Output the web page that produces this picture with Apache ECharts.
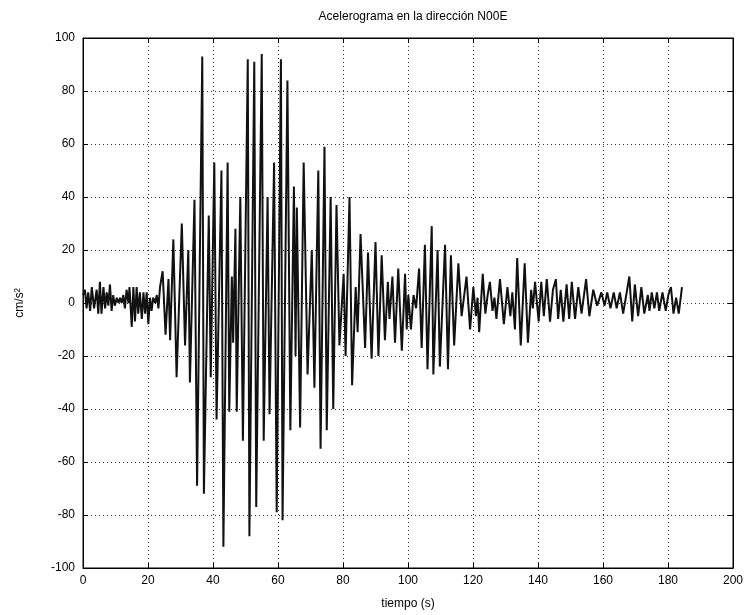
<!DOCTYPE html>
<html>
<head>
<meta charset="utf-8">
<script src="https://cdn.jsdelivr.net/npm/echarts@6/dist/echarts.min.js"></script>
<style>
html,body{margin:0;padding:0;background:#fff;}
#chart{width:750px;height:615px;}
</style>
</head>
<body>
<div id="chart"></div>
<script>
const chartTitle = "Acelerograma en la dirección N00E";
const xAxisName = "tiempo (s)";
const yAxisName = "cm/s²";
const xTicks = [0, 20, 40, 60, 80, 100, 120, 140, 160, 180, 200];
const yTicks = [-100, -80, -60, -40, -20, 0, 20, 40, 60, 80, 100];

// time (s) of each read-off turning point
const times = [
  0.0,0.6,1.1,1.6,2.2,2.7,3.4,4.2,4.7,5.2,5.7,6.3,6.8,7.3,7.8,8.3,8.8,9.3,9.8,10.4,
  10.9,11.4,11.9,12.4,12.9,13.4,14.0,14.3,15.0,15.5,16.0,16.5,17.0,17.5,18.1,18.6,19.1,19.6,20.1,20.6,
  21.1,21.6,22.2,22.7,23.2,23.7,24.5,25.4,26.3,26.8,27.8,28.8,30.4,31.4,32.4,32.9,34.3,35.1,36.7,37.2,
  38.7,39.3,40.4,41.1,42.6,43.2,44.5,45.0,45.8,46.2,46.9,47.3,48.4,49.2,50.7,51.2,52.7,53.3,55.0,55.6,56.8,57.4,
  58.8,59.6,60.9,61.4,62.9,63.8,64.9,65.4,65.8,66.8,67.9,69.1,70.4,71.2,72.4,73.1,74.3,75.0,76.2,77.0,
  78.0,78.9,80.2,80.8,82.0,82.8,83.9,84.5,85.4,86.8,87.7,88.8,90.0,90.9,91.9,92.9,93.8,94.3,95.2,96.0,
  97.0,98.1,99.1,99.6,100.1,100.9,101.7,102.5,103.4,104.2,105.2,106.0,107.3,107.8,109.1,109.8,111.4,112.3,113.2,114.2,
  115.5,116.5,118.0,119.1,120.1,120.9,121.4,121.9,123.0,123.8,124.5,125.2,126.0,126.6,127.2,128.3,129.5,130.6,131.5,132.1,
  132.9,133.6,134.7,135.9,136.9,137.9,138.4,139.1,140.2,141.0,141.8,142.7,143.7,144.6,145.5,146.2,147.0,147.8,148.8,149.6,
  150.4,151.4,152.4,153.4,154.8,155.8,157.0,158.2,159.5,160.5,161.3,162.3,163.3,164.2,165.2,166.2,168.1,169.0,169.8,170.8,
  171.8,172.7,173.8,174.3,175.0,175.8,176.6,177.3,178.3,179.3,180.1,180.9,181.7,182.5,183.3,184.3
];
// acceleration (cm/s^2) at each of those times
const accel = [
  3,5,-2,4,-3,6,-2,5,-4,8,-4,6,-2,4,-1,7,-3,3,-1,2,
  0,2,0,3,-2,5,0,6,-9,6,-7,6,-4,4,-6,4,-4,4,-8,2,
  -3,2,0,3,-2,6,12,-12,9,-14,24,-28,30,-16,20,-30,39,-69,93,-72,
  33,-28,53,-44,50,-92,53,-41,10,-15,28,-41,40,-52,92,-88,91,-77,94,-52,40,-42,
  53,-79,92,-82,84,-48,44,-20,36,-47,53,-27,20,-32,50,-55,59,-48,40,-40,
  37,-16,11,-20,40,-31,6,-11,26,-17,19,-21,23,-20,18,-14,8,-6,10,-15,
  13,-18,11,-10,3,-10,3,-2,13,-17,22,-25,29,-27,20,-24,22,-25,18,-16,
  15,-5,10,-10,6,-5,2,-11,11,-4,3,8,-3,2,-6,9,-8,6,-5,4,
  -10,17,-16,15,-15,5,-2,8,-7,8,-5,9,-7,5,9,-6,5,-7,7,-6,
  8,-6,6,-4,9,-5,5,-1,4,-1,4,-2,4,-2,4,-4,10,-7,7,-5,
  6,-4,3,-3,4,-2,4,-3,4,-3,3,6,-4,2,-4,6
];

const seriesData = times.map((t, i) => [t, accel[i]]);

const chart = echarts.init(document.getElementById('chart'));
const font = 'Liberation Sans, Arial, sans-serif';
const gridLine = {show: true, lineStyle: {color: '#333', type: [1, 3], width: 1}};
chart.setOption({
  animation: false,
  backgroundColor: '#fff',
  title: {
    text: chartTitle, left: 408, top: 6, textAlign: 'center',
    textStyle: {fontFamily: font, fontSize: 12, fontWeight: 'normal', color: '#000'}
  },
  grid: {left: 83, right: 17, top: 38, bottom: 44, show: true, borderColor: '#000', borderWidth: 1},
  xAxis: [{
    type: 'value', min: 0, max: 200, interval: 20,
    name: xAxisName, nameLocation: 'middle', nameGap: 30,
    nameTextStyle: {fontFamily: font, fontSize: 12, color: '#000'},
    axisLine: {show: true, onZero: false, lineStyle: {color: '#000'}},
    axisTick: {show: true, inside: true, length: 5, lineStyle: {color: '#000'}},
    axisLabel: {fontFamily: font, fontSize: 12, color: '#000', margin: 7,
      formatter: v => xTicks.includes(v) ? String(v) : ''},
    splitLine: gridLine
  }, {
    type: 'value', min: 0, max: 200, interval: 20, position: 'top',
    axisLine: {show: true, onZero: false, lineStyle: {color: '#000'}},
    axisTick: {show: true, inside: true, length: 5, lineStyle: {color: '#000'}},
    axisLabel: {show: false}, splitLine: {show: false}
  }],
  yAxis: [{
    type: 'value', min: -100, max: 100, interval: 20,
    name: yAxisName, nameLocation: 'middle', nameGap: 57, nameRotate: 90,
    nameTextStyle: {fontFamily: font, fontSize: 12, color: '#000'},
    axisLine: {show: true, onZero: false, lineStyle: {color: '#000'}},
    axisTick: {show: true, inside: true, length: 5, lineStyle: {color: '#000'}},
    axisLabel: {fontFamily: font, fontSize: 12, color: '#000', margin: 8,
      formatter: v => yTicks.includes(v) ? String(v) : ''},
    splitLine: gridLine
  }, {
    type: 'value', min: -100, max: 100, interval: 20, position: 'right',
    axisLine: {show: true, onZero: false, lineStyle: {color: '#000'}},
    axisTick: {show: true, inside: true, length: 5, lineStyle: {color: '#000'}},
    axisLabel: {show: false}, splitLine: {show: false}
  }],
  series: [{
    type: 'line', data: seriesData, xAxisIndex: 0, yAxisIndex: 0,
    showSymbol: false, symbol: 'none',
    lineStyle: {color: '#111', width: 2}
  }]
});
</script>
</body>
</html>
